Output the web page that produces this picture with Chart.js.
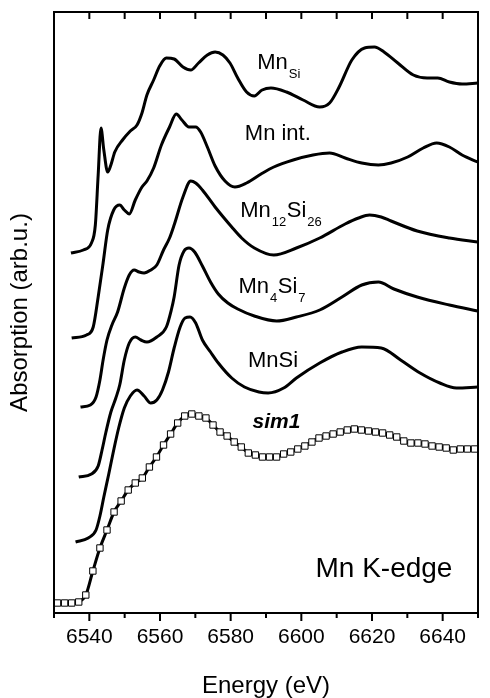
<!DOCTYPE html>
<html><head><meta charset="utf-8">
<script src="https://cdn.jsdelivr.net/npm/chart.js@4/dist/chart.umd.min.js"></script>
<style>html,body{margin:0;padding:0;background:#fff;}canvas{display:block;}</style>
</head><body>
<canvas id="c" width="490" height="698"></canvas>
<script>
// ---- data (energy in eV, absorption in arb. u., curves vertically offset as in the figure) ----
const energyMnSiSite = [6534.8,6538.3,6540.6,6541.7,6542.5,6543.3,6544.1,6545.2,6546.1,6547.2,6549.4,6551.6,6553.5,6554.9,6556.3,6558.2,6559.9,6561.8,6564.0,6566.5,6568.7,6570.9,6573.4,6575.6,6577.8,6579.8,6582.0,6584.5,6586.7,6588.9,6591.4,6595.8,6600.5,6605.2,6608.0,6610.7,6614.3,6617.9,6620.7,6623.4,6627.3,6631.7,6635.6,6638.6,6641.9,6645.5,6649.9];
const absMnSiSite    = [3.60,3.63,3.70,3.88,4.38,4.85,4.63,4.41,4.48,4.61,4.73,4.82,4.88,5.00,5.18,5.33,5.47,5.55,5.54,5.46,5.43,5.50,5.58,5.61,5.58,5.50,5.35,5.21,5.17,5.23,5.25,5.21,5.13,5.06,5.10,5.26,5.53,5.65,5.66,5.61,5.50,5.38,5.35,5.35,5.31,5.29,5.30];

const energyMnInt = [6535.0,6539.2,6541.1,6542.5,6543.9,6545.2,6546.9,6548.6,6549.9,6551.3,6553.0,6554.9,6556.3,6558.2,6560.4,6562.7,6564.6,6566.2,6568.2,6570.1,6571.5,6573.4,6575.6,6578.4,6581.2,6584.5,6588.6,6592.2,6597.7,6603.3,6608.0,6612.4,6617.1,6621.8,6625.4,6630.1,6634.5,6638.3,6641.9,6645.5,6649.9];
const absMnInt    = [2.75,2.78,2.86,3.16,3.50,3.83,4.03,4.08,4.03,3.99,4.13,4.26,4.32,4.45,4.68,4.86,4.99,4.93,4.86,4.86,4.81,4.66,4.47,4.32,4.26,4.30,4.39,4.46,4.53,4.58,4.60,4.55,4.50,4.48,4.50,4.56,4.65,4.70,4.66,4.58,4.51];

const energyMn12Si26 = [6537.5,6540.3,6541.9,6543.0,6543.9,6545.0,6546.4,6548.0,6549.9,6551.3,6552.7,6554.1,6555.5,6557.4,6559.1,6561.0,6562.7,6564.0,6566.5,6568.7,6570.1,6572.0,6575.6,6580.3,6583.1,6586.7,6592.2,6598.6,6605.2,6612.4,6616.2,6619.3,6622.6,6625.4,6632.8,6641.9,6649.9];
const absMn12Si26    = [2.06,2.08,2.16,2.33,2.53,2.73,2.88,3.01,3.25,3.38,3.43,3.41,3.40,3.43,3.48,3.63,3.75,3.88,4.16,4.32,4.30,4.23,4.06,3.86,3.75,3.65,3.58,3.65,3.75,3.89,3.95,3.98,3.96,3.92,3.82,3.75,3.71];

const energyMn4Si7 = [6537.0,6540.6,6542.5,6543.6,6544.7,6546.1,6547.5,6548.6,6549.9,6551.3,6553.0,6554.6,6556.3,6559.1,6561.8,6563.2,6564.0,6565.4,6566.8,6568.2,6569.8,6572.0,6574.3,6576.5,6579.2,6582.0,6586.7,6593.0,6598.6,6605.2,6611.5,6617.1,6621.8,6626.2,6632.8,6641.9,6649.9];
const absMn4Si7    = [1.36,1.39,1.47,1.63,1.81,2.01,2.15,2.28,2.53,2.70,2.76,2.73,2.71,2.76,2.86,3.03,3.16,3.48,3.62,3.65,3.61,3.47,3.31,3.19,3.10,3.04,2.97,2.92,2.96,3.03,3.16,3.28,3.31,3.24,3.16,3.08,3.02];

const energyMnSi = [6536.1,6539.7,6541.9,6543.0,6544.1,6545.5,6546.9,6548.3,6549.9,6551.6,6553.5,6555.5,6557.4,6559.1,6560.7,6562.4,6564.0,6565.7,6567.1,6568.5,6570.1,6572.0,6574.3,6576.5,6580.3,6583.9,6588.0,6590.6,6595.0,6598.6,6605.2,6611.5,6617.1,6622.6,6628.1,6633.6,6639.2,6643.9,6649.9];
const absMnSi    = [0.71,0.75,0.83,0.97,1.16,1.39,1.63,1.85,2.05,2.17,2.23,2.17,2.10,2.13,2.23,2.41,2.65,2.86,2.95,2.96,2.90,2.73,2.61,2.50,2.35,2.26,2.21,2.20,2.25,2.35,2.50,2.61,2.66,2.65,2.53,2.40,2.30,2.25,2.26];

const energySim1 = [6531,6533,6535,6537,6539,6541,6543,6545,6547,6549,6551,6553,6555,6557,6559,6561,6563,6565,6567,6569,6571,6573,6575,6577,6579,6581,6583,6585,6587,6589,6591,6593,6595,6597,6599,6601,6603,6605,6607,6609,6611,6613,6615,6617,6619,6621,6623,6625,6627,6629,6631,6633,6635,6637,6639,6641,6643,6645,6647,6649];
const absSim1    = [0.10,0.10,0.10,0.11,0.18,0.42,0.65,0.83,1.01,1.12,1.23,1.30,1.35,1.46,1.56,1.68,1.79,1.90,1.97,1.99,1.97,1.95,1.88,1.81,1.77,1.71,1.66,1.60,1.58,1.56,1.56,1.56,1.59,1.61,1.64,1.67,1.71,1.75,1.77,1.79,1.81,1.83,1.84,1.83,1.82,1.81,1.80,1.78,1.76,1.72,1.70,1.70,1.69,1.67,1.66,1.65,1.63,1.64,1.64,1.64];

const seriesNames = ['MnSi site','Mn int.','Mn12Si26','Mn4Si7','MnSi','sim1'];
const xMin = 6530, xMax = 6650, xStep = 10, xLabelStep = 20;
const yMin = 0, yMax = 6.01;
const xTitle = 'Energy (eV)';
const yTitle = 'Absorption (arb.u.)';

// curve annotations: [text, isSubscript] parts anchored at (energy, absorption)
const annotations = [
  {parts:[['Mn',0],['Si',1]], E:6587.5, A:5.44},
  {parts:[['Mn int.',0]], E:6584.0, A:4.73},
  {parts:[['Mn',0],['12',1],['Si',0],['26',1]], E:6582.7, A:3.96},
  {parts:[['Mn',0],['4',1],['Si',0],['7',1]], E:6582.2, A:3.20},
  {parts:[['MnSi',0]], E:6584.9, A:2.46},
  {parts:[['sim1',0]], E:6586.2, A:1.85, font:'italic bold 21px "Liberation Sans", Arial, sans-serif'},
  {parts:[['Mn K-edge',0]], E:6604.0, A:0.36, font:'28px "Liberation Sans", Arial, sans-serif'}
];

const FONT = '"Liberation Sans", Arial, Helvetica, sans-serif';
const pts = (ex, ay) => ex.map((e, i) => ({x: e, y: ay[i]}));
const lineDs = (label, ex, ay) => ({
  label, data: pts(ex, ay), borderColor:'#000', borderWidth:3, pointRadius:0,
  cubicInterpolationMode:'monotone', fill:false
});

const datasets = [
  lineDs(seriesNames[0], energyMnSiSite, absMnSiSite),
  lineDs(seriesNames[1], energyMnInt, absMnInt),
  lineDs(seriesNames[2], energyMn12Si26, absMn12Si26),
  lineDs(seriesNames[3], energyMn4Si7, absMn4Si7),
  lineDs(seriesNames[4], energyMnSi, absMnSi),
  {
    label: seriesNames[5], data: pts(energySim1, absSim1), borderColor:'#000', borderWidth:3,
    pointStyle:'rect', pointRadius:4.5, pointBackgroundColor:'#fff', pointBorderColor:'#000',
    pointBorderWidth:1, cubicInterpolationMode:'monotone', fill:false
  }
];

const framePlugin = {
  id:'frame',
  afterDatasetsDraw(chart){
    const {ctx, chartArea:a, scales:{x}} = chart;
    ctx.save();
    ctx.strokeStyle = '#000';
    ctx.lineWidth = 2;
    ctx.strokeRect(a.left, a.top, a.right - a.left, a.bottom - a.top);
    ctx.beginPath();
    x.ticks.forEach(t => {
      const px = x.getPixelForValue(t.value);
      const major = t.value % xLabelStep === 0;
      ctx.moveTo(px, a.bottom);
      ctx.lineTo(px, a.bottom + (major ? 8 : 5));
      ctx.moveTo(px, a.top);
      ctx.lineTo(px, a.top + 7);
    });
    ctx.stroke();
    ctx.restore();
  }
};

const labelPlugin = {
  id:'curveLabels',
  afterDatasetsDraw(chart){
    const {ctx, scales:{x, y}} = chart;
    ctx.save();
    ctx.fillStyle = '#000';
    ctx.textBaseline = 'alphabetic';
    ctx.textAlign = 'left';
    annotations.forEach(lab => {
      let px = x.getPixelForValue(lab.E);
      const py = y.getPixelForValue(lab.A);
      lab.parts.forEach(([txt, sub]) => {
        ctx.font = sub ? '13px ' + FONT : (lab.font || '22px ' + FONT);
        ctx.fillText(txt, px, py + (sub ? 9 : 0));
        px += ctx.measureText(txt).width + (sub ? 0.5 : 1);
      });
    });
    ctx.restore();
  }
};

new Chart(document.getElementById('c'), {
  type:'line',
  data:{datasets},
  options:{
    responsive:false,
    animation:false,
    devicePixelRatio:1,
    layout:{padding:{top:12, right:1, left:0, bottom:0}},
    plugins:{legend:{display:false}, tooltip:{enabled:false}},
    scales:{
      x:{
        type:'linear', position:'bottom', min:xMin, max:xMax,
        grid:{display:false, drawTicks:false}, border:{display:false},
        ticks:{stepSize:xStep, autoSkip:false, maxRotation:0, color:'#000', padding:12,
          font:{family:FONT, size:21},
          callback:v => (v % xLabelStep === 0 ? String(v) : '')},
        title:{display:true, text:xTitle, color:'#000', font:{family:FONT, size:24, lineHeight:1}, padding:{top:0,bottom:0}},
        afterFit:s => { s.height = 85; }
      },
      y:{
        type:'linear', position:'left', min:yMin, max:yMax,
        grid:{display:false, drawTicks:false}, border:{display:false},
        ticks:{display:false},
        title:{display:true, text:yTitle, color:'#000', font:{family:FONT, size:24, lineHeight:1}, padding:{top:8.5,bottom:0}},
        afterFit:s => { s.width = 54; }
      }
    }
  },
  plugins:[framePlugin, labelPlugin]
});
</script>
</body></html>
